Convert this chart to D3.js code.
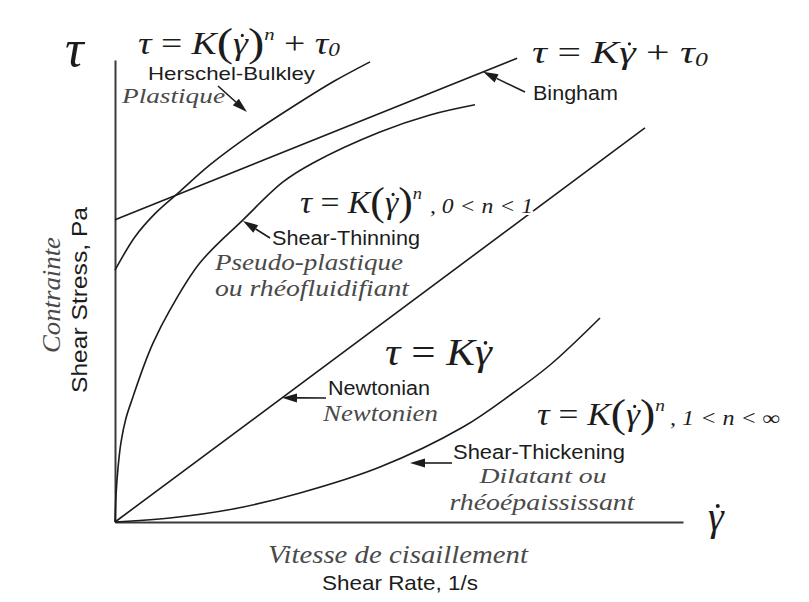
<!DOCTYPE html>
<html>
<head>
<meta charset="utf-8">
<script src="https://cdn.jsdelivr.net/npm/d3@7"></script>
<style>
  html, body { margin: 0; padding: 0; background: #fff; }
  svg { display: block; }
</style>
</head>
<body>
<svg id="chart" width="809" height="602"></svg>
<script>
// Rheological flow curves: shear stress vs. shear rate (arbitrary units, 0..10)
const binghamRate   = [0, 7.08];
const binghamStress = [6.54, 10.04];

const herschelRate   = [0, 0.35, 0.70, 1.11, 1.67, 2.38, 3.26, 3.87, 4.49];
const herschelStress = [5.45, 6.17, 6.67, 7.12, 7.73, 8.38, 9.09, 9.55, 9.96];

const thinningRate   = [0, 0.018, 0.053, 0.106, 0.194, 0.317, 0.493, 0.669, 0.968, 1.496, 2.254, 2.958, 3.486, 4.665, 5.546, 6.338];
const thinningStress = [0, 0.58, 1.17, 1.73, 2.25, 2.71, 3.33, 3.87, 4.59, 5.61, 6.54, 7.36, 7.77, 8.44, 8.81, 9.03];

const newtonRate   = [0, 9.33];
const newtonStress = [0, 8.53];

const thickeningRate   = [0, 0.968, 2.077, 3.257, 4.665, 6.127, 7.007, 7.658, 8.539];
const thickeningStress = [0, 0.087, 0.281, 0.628, 1.19, 2.056, 2.792, 3.398, 4.416];

const axisDomain = [0, 10];

const W = 809, H = 602;
const svg = d3.select("#chart");
svg.append("rect").attr("width", W).attr("height", H).attr("fill", "#fff");

const x = d3.scaleLinear().domain(axisDomain).range([115, 683]);
const y = d3.scaleLinear().domain(axisDomain).range([522, 60]);

const ink = "#1c1c1c";
const grey = "#4a4a4a";
const serif = "'Liberation Serif', 'Times New Roman', serif";
const sans = "'Liberation Sans', Arial, sans-serif";

// Axes: bare lines without ticks
const xAxis = svg.append("g").attr("transform", `translate(0,${y(0)})`)
  .call(d3.axisBottom(x).tickValues([]).tickSizeOuter(0));
const yAxis = svg.append("g").attr("transform", `translate(${x(0)},0)`)
  .call(d3.axisLeft(y).tickValues([]).tickSizeOuter(0));
[xAxis, yAxis].forEach(g => g.select(".domain").attr("stroke", "#3a3a3a").attr("stroke-width", 2));

const zip = (a, b) => a.map((v, i) => [v, b[i]]);
const smooth = d3.line().x(d => x(d[0])).y(d => y(d[1])).curve(d3.curveCatmullRom.alpha(0.5));
const straight = d3.line().x(d => x(d[0])).y(d => y(d[1]));

const curves = svg.append("g").attr("fill", "none").attr("stroke", ink).attr("stroke-width", 1.6);
curves.append("path").attr("d", straight(zip(binghamRate, binghamStress)));
curves.append("path").attr("d", smooth(zip(herschelRate, herschelStress)));
curves.append("path").attr("d", smooth(zip(thinningRate, thinningStress)));
curves.append("path").attr("d", straight(zip(newtonRate, newtonStress)));
curves.append("path").attr("d", smooth(zip(thickeningRate, thickeningStress)));

// point on a straight flow curve at a given shear rate
const onLine = (rates, stresses, r) =>
  [x(r), y(stresses[0] + (stresses[1] - stresses[0]) * r / rates[1])];

// Text helpers
const labels = svg.append("g");

function label(txt, px, py, opts = {}) {
  const t = labels.append("text")
    .attr("x", px).attr("y", py)
    .attr("font-family", opts.serif ? serif : sans)
    .attr("font-size", opts.size || 20)
    .attr("font-style", opts.serif ? "italic" : "normal")
    .attr("fill", opts.serif ? grey : ink)
    .attr("text-anchor", opts.anchor || "start")
    .attr("stroke", "#fff").attr("stroke-width", 4).attr("paint-order", "stroke")
    .text(txt);
  if (opts.w) t.attr("textLength", opts.w).attr("lengthAdjust", "spacingAndGlyphs");
  if (opts.rotate) t.attr("transform", `rotate(-90,${px},${py})`);
  return t;
}

// Math expression built from tspans; parts: [string, kind].
// The whole expression is stretched horizontally to the requested width.
function formula(px, py, fs, parts, w) {
  const g = labels.append("g");
  const t = g.append("text")
    .attr("x", 0).attr("y", 0)
    .attr("font-family", serif).attr("font-size", fs).attr("fill", ink)
    .attr("stroke", "#fff").attr("stroke-width", 4).attr("paint-order", "stroke");
  let shift = 0, idx = 0;
  const dotted = [];
  parts.forEach(([s, k]) => {
    const sp = t.append("tspan").text(s);
    let target = 0, size = fs, italic = false;
    if (k === "i" || k === "dot") italic = true;
    if (k === "p") { size = fs * 1.3; target = fs * 0.05; }
    if (k === "sup") { size = fs * 0.55; italic = true; target = -fs * 0.44; }
    if (k === "sub") { size = fs * 0.62; italic = true; target = fs * 0.08; }
    if (k === "dot") dotted.push(idx);
    sp.attr("font-size", size).attr("font-style", italic ? "italic" : "normal")
      .attr("dy", target - shift);
    shift = target;
    idx += s.length;
  });
  const sx = w ? w / t.node().getComputedTextLength() : 1;
  g.attr("transform", `translate(${px},${py}) scale(${sx},1)`);
  // dot accent over the shear-rate symbol
  dotted.forEach(i => {
    const e = t.node().getExtentOfChar(i);
    g.append("ellipse")
      .attr("cx", e.x + e.width * 0.62).attr("cy", -fs * 0.6)
      .attr("rx", fs * 0.05 / sx).attr("ry", fs * 0.05).attr("fill", ink);
  });
  return g;
}

// small italic range condition next to a power law
function condition(txt, px, py, w) {
  return labels.append("text")
    .attr("x", px).attr("y", py)
    .attr("font-family", serif).attr("font-size", 20).attr("font-style", "italic")
    .attr("fill", ink)
    .attr("stroke", "#fff").attr("stroke-width", 4).attr("paint-order", "stroke")
    .attr("textLength", w).attr("lengthAdjust", "spacingAndGlyphs")
    .text(txt);
}

function arrow(x1, y1, x2, y2) {
  const a = Math.atan2(y2 - y1, x2 - x1);
  const len = 15, half = 4.5;
  const bx = x2 - len * Math.cos(a), by = y2 - len * Math.sin(a);
  labels.append("line").attr("x1", x1).attr("y1", y1).attr("x2", bx).attr("y2", by)
    .attr("stroke", ink).attr("stroke-width", 1.6);
  labels.append("path")
    .attr("d", `M${x2},${y2}L${bx - half * Math.sin(a)},${by + half * Math.cos(a)}L${bx + half * Math.sin(a)},${by - half * Math.cos(a)}Z`)
    .attr("fill", ink);
}

// Axis symbols and titles
formula(65, 66, 52, [["τ", "i"]]);
formula(708, 530, 40, [["γ", "dot"]]);
label("Contrainte", 60, 295, { serif: true, size: 25, rotate: true, anchor: "middle", w: 116 });
label("Shear Stress, Pa", 87, 300, { size: 22, rotate: true, anchor: "middle", w: 186 });
label("Vitesse de cisaillement", 398, 563, { serif: true, size: 25, anchor: "middle", w: 260 });
label("Shear Rate, 1/s", 400, 590, { size: 21, anchor: "middle", w: 156 });

// Herschel-Bulkley
formula(138, 54, 31, [["τ", "i"], [" = ", "r"], ["K", "i"], ["(", "p"], ["γ", "dot"], [")", "p"], ["n", "sup"], [" + ", "r"], ["τ", "i"], ["0", "sub"]], 202);
label("Herschel-Bulkley", 148, 80, { size: 19, w: 167 });
label("Plastique", 122, 103, { serif: true, size: 22, w: 103 });
arrow(218, 86, 247, 112);

// Bingham
formula(532, 63, 32, [["τ", "i"], [" = ", "r"], ["K", "i"], ["γ", "dot"], [" + ", "r"], ["τ", "i"], ["0", "sub"]], 176);
label("Bingham", 533, 100, { w: 85 });
arrow(525, 92, ...onLine(binghamRate, binghamStress, 6.48));

// Shear-thinning
formula(300, 213, 31, [["τ", "i"], [" = ", "r"], ["K", "i"], ["(", "p"], ["γ", "dot"], [")", "p"], ["n", "sup"]], 122);
condition(", 0 < n < 1", 430, 213, 103);
label("Shear-Thinning", 272, 245, { w: 148 });
label("Pseudo-plastique", 215, 270, { serif: true, size: 24, w: 188 });
label("ou rhéofluidifiant", 215, 296, { serif: true, size: 24, w: 194 });
arrow(270, 238, 243, 221);

// Newtonian
formula(385, 365, 37, [["τ", "i"], [" = ", "r"], ["K", "i"], ["γ", "dot"]], 107);
label("Newtonian", 328, 395, { w: 102 });
label("Newtonien", 323, 421, { serif: true, size: 24, w: 115 });
arrow(326, 398, ...onLine(newtonRate, newtonStress, 2.94));

// Shear-thickening
formula(537, 425, 31, [["τ", "i"], [" = ", "r"], ["K", "i"], ["(", "p"], ["γ", "dot"], [")", "p"], ["n", "sup"]], 128);
condition(", 1 < n < ∞", 670, 425, 110);
label("Shear-Thickening", 453, 459, { w: 172 });
label("Dilatant ou", 543, 483, { serif: true, size: 22, anchor: "middle", w: 127 });
label("rhéoépaississant", 542, 510, { serif: true, size: 24, anchor: "middle", w: 185 });
arrow(452, 463, 410, 463);
</script>
</body>
</html>
